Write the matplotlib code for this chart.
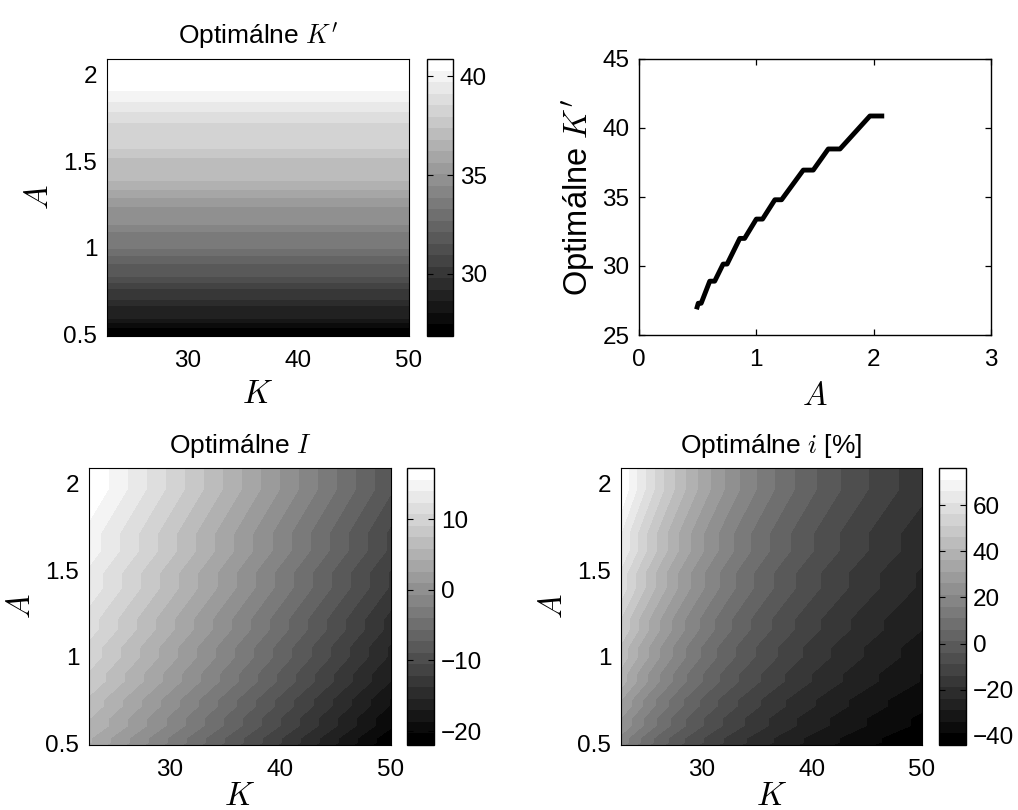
import numpy as np
import matplotlib
matplotlib.use('Agg')
import matplotlib.pyplot as plt

plt.rcParams['font.family'] = ['Liberation Sans', 'DejaVu Sans']
plt.rcParams['mathtext.fontset'] = 'cm'

# optimal K' on the A grid (top right)
A_pts = [0.49, 0.505, 0.53, 0.603, 0.645, 0.717, 0.751, 0.859, 0.90, 1.0, 1.053,
         1.158, 1.215, 1.40, 1.485, 1.613, 1.713, 1.968, 2.09]
Kp_pts = [26.86, 27.3, 27.3, 28.9, 28.9, 30.14, 30.14, 32.0, 32.0, 33.4, 33.4,
          34.8, 34.8, 36.95, 36.95, 38.48, 38.48, 40.87, 40.87]

# capital grid and the remaining constants of the surfaces
K_lo, K_hi = 22.7, 50.0
inv_share = 0.95          # I = inv_share * (K' - K)
n_shades = 24             # grey levels visible in the maps

kp_ticks = [30, 35, 40]
inv_ticks = [-20, -10, 0, 10]
rate_ticks = [-40, -20, 0, 20, 40, 60]

A = np.array(A_pts)
Kp = np.array(Kp_pts)
K = np.linspace(K_lo, K_hi, 56)
KK, AA = np.meshgrid(K, A)
KP = np.repeat(Kp[:, None], len(K), axis=1)
I = inv_share * (KP - KK)
irate = 100 * I / KK

grey = plt.get_cmap('gray', n_shades)
TICK = 17.5
TITLE = 19
LAB = 23.5

W, H = 1018, 810
fig = plt.figure(figsize=(W / 100, H / 100), dpi=100)


def box(l, t, r, b):
    return [l / W, 1 - b / H, (r - l) / W, (b - t) / H]


def heat(ax_px, cb_px, Z, ticks, title, xpad=5):
    ax = fig.add_axes(box(*ax_px))
    cax = fig.add_axes(box(*cb_px))
    levels = np.linspace(Z.min(), Z.max(), n_shades + 1)
    cs = ax.contourf(KK, AA, Z, levels=levels, cmap=grey)
    ax.set_xlim(K_lo, K_hi)
    ax.set_ylim(A[0], A[-1])
    ax.set_xticks([30, 40, 50])
    ax.set_yticks([0.5, 1, 1.5, 2])
    ax.set_yticklabels(['0.5', '1', '1.5', '2'])
    ax.tick_params(length=0, labelsize=TICK)
    ax.tick_params(axis='x', pad=10)
    ax.tick_params(axis='y', pad=7)
    for s in ax.spines.values():
        s.set_linewidth(0.8)
    ax.set_xlabel('$K$', fontsize=LAB, labelpad=xpad)
    ax.set_ylabel('$A$', fontsize=LAB, labelpad=6)
    ax.set_title(title, fontsize=TITLE, pad=11)
    cb = fig.colorbar(cs, cax=cax, ticks=ticks)
    cb.outline.set_linewidth(1.0)
    cax.tick_params(direction='in', left=True, right=True, length=4,
                    width=0.8, labelsize=TICK, pad=5)
    return ax


heat((107, 59, 409, 336), (427, 59, 453, 336), KP,
     kp_ticks, "Optimálne $K'$")
heat((89, 468, 391, 745), (407, 468, 434, 745), I,
     inv_ticks, 'Optimálne $I$', xpad=0)
heat((621, 468, 922, 745), (939, 468, 966, 745), irate,
     rate_ticks, 'Optimálne $i$ [%]', xpad=0)

# line plot of optimal K' against A
ax = fig.add_axes(box(639, 59, 991, 335))
ax.plot(A, Kp, color='k', lw=3.5, solid_capstyle='butt')
ax.set_xlim(0, 3)
ax.set_ylim(25, 45)
ax.set_xticks([0, 1, 2, 3])
ax.set_yticks([25, 30, 35, 40, 45])
ax.tick_params(direction='in', top=True, right=True, length=4, width=0.9,
               labelsize=TICK)
ax.tick_params(axis='x', pad=10)
ax.tick_params(axis='y', pad=7)
for s in ax.spines.values():
    s.set_linewidth(1.0)
ax.set_xlabel('$A$', fontsize=LAB, labelpad=7)
ax.set_ylabel("Optimálne $K'$", fontsize=LAB, labelpad=4)

fig.savefig('out.png', dpi=100)
